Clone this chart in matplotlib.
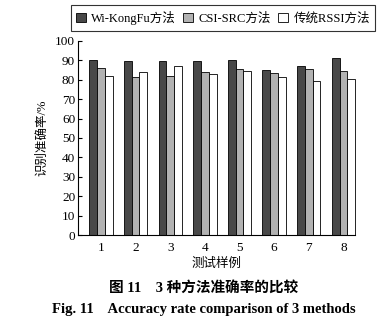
import numpy as np
import matplotlib.pyplot as plt

plt.rcParams['font.family'] = ['Liberation Serif', 'Noto Sans CJK SC']

samples = ['1', '2', '3', '4', '5', '6', '7', '8']
wi_kongfu = [90.2, 89.6, 89.9, 89.8, 90.3, 85.3, 87.3, 91.3]
csi_src = [85.9, 81.5, 81.8, 83.9, 85.7, 83.5, 85.5, 84.5]
rssi = [82.0, 83.9, 87.0, 83.2, 84.3, 81.6, 79.4, 80.6]
labels = ['Wi-KongFu方法', 'CSI-SRC方法', '传统RSSI方法']

fig = plt.figure(figsize=(3.82, 3.23), dpi=100)
ax = fig.add_axes([78/382, 1 - 235/323, 277/382, 194/323])

x = np.arange(1, len(samples) + 1)
w = 0.225
kw = dict(edgecolor='black', linewidth=0.6, clip_on=False)
ax.bar(x - w, wi_kongfu, w, color='#484848', label=labels[0], **kw)
ax.bar(x, csi_src, w, color='#b2b2b2', label=labels[1], **kw)
ax.bar(x + w, rssi, w, color='white', label=labels[2], **kw)

ax.set_xlim(0.337, 8.335)
ax.set_ylim(0, 100)
ax.set_yticks(range(0, 101, 10))
ax.set_xticks(x)
ax.set_xticklabels(samples)
ax.tick_params(axis='y', direction='in', length=3, width=0.8, labelsize=9.5, pad=2)
ax.tick_params(axis='x', length=0, labelsize=9.5, pad=5)
ax.spines['top'].set_visible(False)
ax.spines['right'].set_visible(False)
ax.set_ylabel('识别准确率/%', fontsize=9, labelpad=5)
ax.set_xlabel('测试样例', fontsize=9, labelpad=3)

leg = fig.legend(loc='center', bbox_to_anchor=(223/382, 1 - 18/323), ncol=3,
                 fontsize=9, frameon=True, fancybox=False, edgecolor='black',
                 handlelength=0.8, handleheight=0.8, handletextpad=0.4,
                 columnspacing=0.6, borderpad=0.45)
leg.get_frame().set_linewidth(0.8)

fig.text(0.533, 1 - 288/323, '图 11    3 种方法准确率的比较', ha='center', va='center',
         fontsize=10.5, fontweight='bold')
fig.text(0.533, 1 - 309/323, 'Fig. 11    Accuracy rate comparison of 3 methods', ha='center',
         va='center', fontsize=10.5, fontweight='bold')

fig.savefig('out.png', dpi=100)
